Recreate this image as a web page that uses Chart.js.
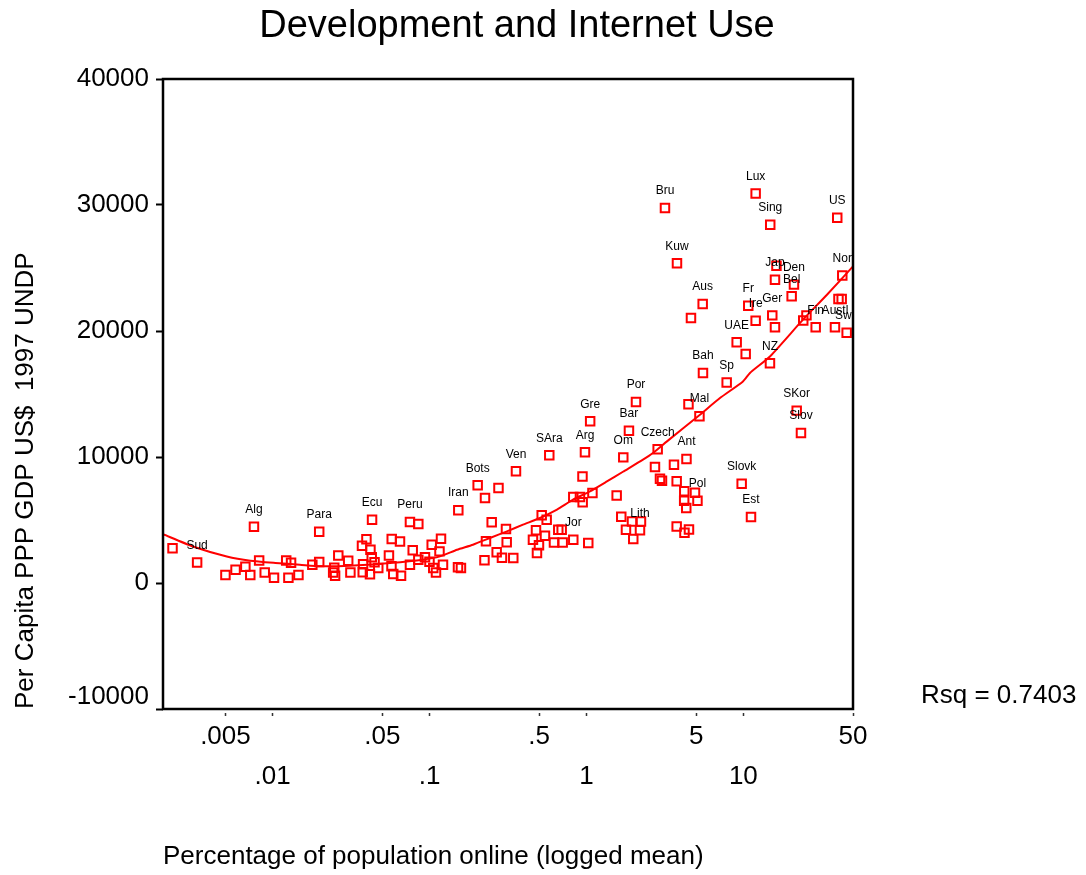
<!DOCTYPE html>
<html>
<head>
<meta charset="utf-8">
<script src="https://cdn.jsdelivr.net/npm/chart.js@4/dist/chart.umd.min.js"></script>
<style>
html,body{margin:0;padding:0;background:#fff;}
#wrap{width:1086px;height:875px;position:relative;}
</style>
</head>
<body>
<div id="wrap"><canvas id="c"></canvas></div>
<script>
// ---- data ----
const countryLabels = [
  '', 'Sud', 'Alg', 'Para', '', '', '', '', '', '',
  '', '', '', '', '', '', '', '', '', '',
  '', '', '', '', '', '', '', '', '', '',
  '', '', 'Ecu', '', '', '', '', '', '', 'Peru',
  '', '', '', '', '', '', '', '', '', '',
  '', '', '', '', 'Iran', 'Bots', '', '', 'Ven', '',
  '', '', '', '', '', '', '', 'SAra', 'Gre', 'Arg',
  '', '', '', '', '', '', '', '', '', '',
  '', '', 'Jor', '', '', '', '', '', 'Por', 'Bar',
  'Om', 'Czech', 'Ant', '', 'Mal', '', '', '', '', '',
  '', '', '', '', 'Pol', '', '', '', '', '',
  'Lith', '', '', '', '', 'Bah', 'Sp', '', 'NZ', 'Slovk',
  'Est', 'SKor', 'Slov', 'Bru', 'Lux', 'Sing', 'US', 'Kuw', '', 'Jap',
  'Den', 'Bel', 'Nor', '', '', 'Aus', '', 'Fr', 'Ire', 'Ger',
  '', '', '', 'Fin', 'Austl', 'Swe', 'UAE'
];
const onlinePct = [
  0.0023, 0.0033, 0.0076, 0.0198, 0.0050, 0.0058, 0.0067, 0.0072, 0.0082, 0.0089,
  0.0102, 0.0122, 0.0131, 0.0126, 0.0146, 0.0179, 0.0198, 0.0243, 0.0247, 0.0262,
  0.0250, 0.0303, 0.0313, 0.0371, 0.0396, 0.0420, 0.0377, 0.0428, 0.0446, 0.0375,
  0.0471, 0.0417, 0.0430, 0.0551, 0.0574, 0.0648, 0.0572, 0.0587, 0.0658, 0.0750,
  0.0848, 0.0781, 0.0750, 0.0848, 0.0935, 0.0999, 0.1032, 0.1183, 0.1157, 0.1056,
  0.1099, 0.1218, 0.1518, 0.1585, 0.1525, 0.2026, 0.2256, 0.2750, 0.3555, 0.2489,
  0.3070, 0.2289, 0.3102, 0.2239, 0.2678, 0.2894, 0.3417, 0.5796, 1.056, 0.9786,
  0.9434, 0.5185, 0.5577, 0.4769, 0.4561, 0.4982, 0.4838, 0.5440, 0.6209, 0.7055,
  0.6614, 0.6952, 0.8244, 1.027, 0.8244, 0.9093, 0.9460, 1.092, 2.069, 1.866,
  1.717, 2.844, 4.341, 4.470, 5.252, 2.734, 3.613, 2.942, 3.030, 3.759,
  4.203, 4.918, 4.197, 4.327, 5.100, 1.558, 1.667, 1.951, 2.226, 1.786,
  2.194, 1.988, 3.759, 4.215, 4.503, 5.530, 7.831, 10.35, 14.78, 9.757,
  11.19, 21.88, 23.30, 3.166, 11.98, 14.84, 39.68, 3.776, 16.26, 15.91,
  21.02, 20.32, 42.72, 40.40, 42.34, 5.506, 4.637, 10.75, 11.98, 15.29,
  15.91, 25.25, 24.09, 28.91, 38.37, 45.56, 9.068
];
const gdpPerCapita = [
  2750, 1630, 4470, 4070, 640, 1060, 1290, 640, 1790, 840,
  420, 1790, 1610, 420, 640, 1450, 1670, 840, 1210, 2190,
  580, 1770, 840, 2960, 3480, 2640, 1490, 2050, 1650, 860,
  1190, 700, 5020, 2190, 3490, 3300, 1330, 710, 580, 4840,
  4680, 2600, 1450, 1850, 2050, 1690, 3040, 3520, 2510, 1190,
  840, 1450, 1250, 1190, 5780, 7750, 6750, 7540, 8860, 4830,
  4290, 3320, 3240, 1810, 2440, 2010, 1980, 10140, 12840, 10380,
  8460, 5370, 5020, 4190, 3440, 3000, 2380, 3750, 3220, 3220,
  4230, 4230, 3440, 3180, 6830, 6830, 6410, 7140, 14370, 12090,
  9970, 10620, 9840, 14180, 13240, 9210, 9390, 8280, 8120, 8080,
  7290, 7170, 6530, 5950, 6530, 6950, 5260, 4890, 4890, 4230,
  4190, 3490, 4490, 3990, 4250, 16670, 15920, 18180, 17440, 7880,
  5240, 13680, 11900, 29760, 30920, 28440, 28990, 25380, 25180, 24070,
  23680, 22750, 24410, 22540, 22540, 22150, 21030, 22010, 20820, 21240,
  20290, 21240, 20840, 20290, 20290, 19870, 19100
];
// fitted (loess-like) curve
const fitOnline = [0.002, 0.0031, 0.0051, 0.0072, 0.0104, 0.0149, 0.020, 0.0311, 0.056, 0.0908,
  0.1165, 0.1496, 0.1891, 0.2427, 0.3115, 0.394, 0.5056, 0.6489, 0.8207, 1.053,
  1.351, 1.709, 2.293, 2.655, 3.261, 5.291, 7.096, 9.945, 11.02, 14.78, 23.99, 34.12, 50];
const fitGdp = [3870, 2900, 2110, 1770, 1590, 1450, 1330, 1370, 1590, 1850,
  2110, 2640, 3040, 3570, 4100, 4630, 5160, 5820, 6610, 7270,
  8060, 8830, 9790, 10320, 11240, 13360, 14680, 16000, 16670, 17980, 20900, 22880, 25130];
const xTickValues = [0.005, 0.01, 0.05, 0.1, 0.5, 1, 5, 10, 50];
const xTickLabels = ['.005', '.01', '.05', '.1', '.5', '1', '5', '10', '50'];
const yTickValues = [-10000, 0, 10000, 20000, 30000, 40000];
const chartTitle = 'Development and Internet Use';
const xTitle = 'Percentage of population online (logged mean)';
const yTitle = 'Per Capita PPP GDP US$  1997 UNDP';
const rsqText = 'Rsq = 0.7403';

const FONT = "'Liberation Sans', Arial, Helvetica, sans-serif";
const RED = '#ff0000';

const labelPlugin = {
  id: 'pointLabels',
  afterDatasetsDraw(chart) {
    const {ctx, chartArea: a} = chart;
    const meta = chart.getDatasetMeta(0);
    ctx.save();
    ctx.beginPath();
    ctx.rect(a.left, a.top, a.right - a.left, a.bottom - a.top);
    ctx.clip();
    ctx.fillStyle = '#000';
    ctx.font = '12px ' + FONT;
    ctx.textAlign = 'center';
    ctx.textBaseline = 'middle';
    meta.data.forEach((el, i) => {
      const name = countryLabels[i];
      if (name) ctx.fillText(name, el.x, el.y - 17);
    });
    ctx.restore();
    // frame
    ctx.save();
    ctx.strokeStyle = '#000';
    ctx.lineWidth = 2.5;
    ctx.strokeRect(a.left, a.top, a.right - a.left, a.bottom - a.top);
    ctx.restore();
  },
  afterDraw(chart) {
    const {ctx, chartArea: a} = chart;
    ctx.save();
    ctx.fillStyle = '#000';
    ctx.textBaseline = 'middle';
    // chart title
    ctx.font = '38px ' + FONT;
    ctx.textAlign = 'center';
    ctx.fillText(chartTitle, 517, 27);
    // Rsq
    ctx.font = '26px ' + FONT;
    ctx.textAlign = 'left';
    ctx.fillText(rsqText, a.right + 68, a.bottom - 13);
    ctx.restore();
  }
};

new Chart(document.getElementById('c'), {
  type: 'scatter',
  data: {
    datasets: [
      {
        label: 'countries',
        data: onlinePct.map((x, i) => ({x: x, y: gdpPerCapita[i]})),
        pointStyle: 'rect',
        pointRadius: 6,
        pointHoverRadius: 6,
        borderWidth: 2,
        pointBorderColor: RED,
        borderColor: RED,
        pointBackgroundColor: 'rgba(0,0,0,0)',
        backgroundColor: 'rgba(0,0,0,0)',
        showLine: false
      },
      {
        type: 'line',
        label: 'fit',
        data: fitOnline.map((x, i) => ({x: x, y: fitGdp[i]})),
        borderColor: RED,
        borderWidth: 2,
        pointRadius: 0,
        fill: false,
        tension: 0.2
      }
    ]
  },
  options: {
    responsive: true,
    maintainAspectRatio: false,
    devicePixelRatio: 1,
    animation: false,
    layout: {padding: {top: 79, right: 233, bottom: 0, left: 0}},
    plugins: {
      legend: {display: false},
      tooltip: {enabled: false},
      title: {display: false}
    },
    scales: {
      x: {
        type: 'logarithmic',
        position: 'bottom',
        min: 0.002,
        max: 50,
        afterBuildTicks: s => { s.ticks = xTickValues.map(v => ({value: v})); },
        afterFit: s => { s.height = 166; },
        border: {display: false},
        grid: {
          drawOnChartArea: false,
          drawTicks: true,
          tickLength: 8,
          tickColor: '#333',
          tickWidth: 1.5,
          tickBorderDash: [0, 4, 3, 20]
        },
        ticks: {
          autoSkip: false,
          maxRotation: 0,
          minRotation: 0,
          padding: 0,
          color: '#000',
          font: {family: FONT, size: 26, lineHeight: '40px'},
          callback: (v, i) => (i % 2 === 0 ? [xTickLabels[i], ''] : ['', xTickLabels[i]])
        },
        title: {
          display: true,
          text: xTitle,
          align: 'start',
          color: '#000',
          font: {family: FONT, size: 26, lineHeight: 1.2},
          padding: {top: 0, bottom: 3}
        }
      },
      y: {
        type: 'linear',
        position: 'left',
        min: -10000,
        max: 40000,
        afterBuildTicks: s => { s.ticks = yTickValues.map(v => ({value: v})); },
        afterFit: s => { s.width = 163; },
        border: {display: false},
        grid: {
          drawOnChartArea: false,
          drawTicks: true,
          tickLength: 7,
          tickColor: '#000',
          tickWidth: 2
        },
        ticks: {
          padding: 7,
          color: '#000',
          font: {family: FONT, size: 26, lineHeight: '24px'},
          callback: v => (v === -10000 ? ['-10000', ''] : String(v))
        },
        title: {
          display: true,
          text: yTitle,
          align: 'start',
          color: '#000',
          font: {family: FONT, size: 26, lineHeight: 1.2},
          padding: {top: 10, bottom: 0}
        }
      }
    }
  },
  plugins: [labelPlugin]
});
</script>
</body>
</html>
